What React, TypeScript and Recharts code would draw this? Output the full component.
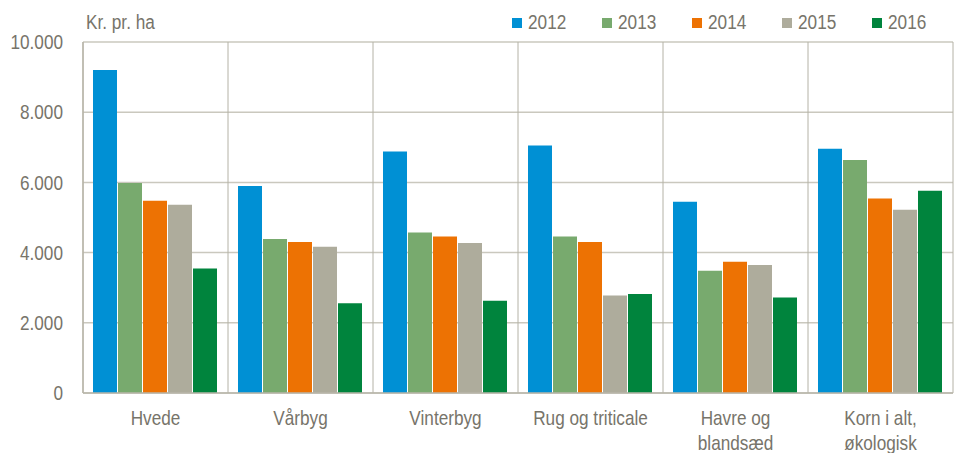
import React from 'react';
import { BarChart, Bar, XAxis, YAxis, CartesianGrid } from 'recharts';

const categories = ['Hvede', 'Vårbyg', 'Vinterbyg', 'Rug og triticale', 'Havre og\nblandsæd', 'Korn i alt,\nøkologisk'];
const years = ['2012', '2013', '2014', '2015', '2016'];
const v2012 = [9200, 5900, 6880, 7050, 5450, 6960];
const v2013 = [5980, 4390, 4570, 4460, 3480, 6640];
const v2014 = [5480, 4300, 4460, 4300, 3740, 5540];
const v2015 = [5360, 4170, 4270, 2780, 3650, 5220];
const v2016 = [3550, 2560, 2630, 2820, 2720, 5760];
const yTicks = [0, 2000, 4000, 6000, 8000, 10000];

const colors = ['#0090d4', '#78aa6e', '#ed7203', '#aeac9c', '#00843d'];
const series = [v2012, v2013, v2014, v2015, v2016];

const data = categories.map((name, i) => {
  const row: Record<string, string | number> = { name };
  years.forEach((y, j) => {
    row[y] = series[j][i];
  });
  return row;
});

// narrow look: regular sans squeezed horizontally
const FONT = '"Liberation Sans", Arial, sans-serif';
const FS = 20;
const SQ = 0.86;
const TEXT = '#77746a';

const fmt = (v: number) => v.toLocaleString('de-DE');

const CategoryTick = (props: any) => {
  const { x, y, payload } = props;
  const lines = String(payload.value).split('\n');
  return (
    <g transform={`translate(${x},${y}) scale(${SQ},1)`}>
      <text x={0} y={0} textAnchor="middle" fill={TEXT} fontSize={FS} fontFamily={FONT}>
        {lines.map((l, i) => (
          <tspan key={i} x={0} dy={i === 0 ? 32 : 25}>
            {l}
          </tspan>
        ))}
      </text>
    </g>
  );
};

const ValueTick = (props: any) => {
  const { x, y, payload } = props;
  return (
    <g transform={`translate(${x},${y}) scale(${SQ},1)`}>
      <text x={0} y={0} dy="0.355em" textAnchor="end" fill={TEXT} fontSize={FS} fontFamily={FONT}>
        {fmt(payload.value)}
      </text>
    </g>
  );
};

const squeezed: React.CSSProperties = {
  display: 'inline-block',
  transform: `scaleX(${SQ})`,
  transformOrigin: 'left center',
  whiteSpace: 'nowrap',
};

const App: React.FC = () => {
  const w = 955;
  const h = 453;
  return (
    <div style={{ position: 'absolute', left: 0, top: 0, width: w, height: h, background: '#fff' }}>
      <div
        style={{
          position: 'absolute',
          left: 86,
          top: 11,
          fontFamily: FONT,
          fontSize: FS,
          color: TEXT,
          lineHeight: '23px',
        }}
      >
        <span style={squeezed}>Kr. pr. ha</span>
      </div>
      <div style={{ position: 'absolute', left: 512, top: 11, fontFamily: FONT, fontSize: FS, color: TEXT }}>
        {years.map((y, i) => (
          <div
            key={y}
            style={{ position: 'absolute', left: i * 90, top: 0, height: 23, display: 'flex', alignItems: 'center' }}
          >
            <span style={{ width: 10, height: 10, background: colors[i], marginRight: 6 }} />
            <span style={{ ...squeezed, lineHeight: '23px' }}>{y}</span>
          </div>
        ))}
      </div>
      <BarChart
        width={w}
        height={h}
        data={data}
        margin={{ top: 42, right: 2, bottom: 0, left: 0 }}
        barCategoryGap={10}
        barGap={1}
      >
        <CartesianGrid vertical={false} stroke="#cac8be" strokeWidth={1.5} />
        <CartesianGrid
          horizontal={false}
          stroke="#b4b2a6"
          verticalCoordinatesGenerator={({ offset }: any) =>
            categories
              .map((_, i) => offset.left + (offset.width / categories.length) * i)
              .concat([offset.left + offset.width])
          }
        />
        <XAxis
          dataKey="name"
          height={60}
          interval={0}
          tickLine={false}
          tickSize={0}
          tickMargin={0}
          axisLine={{ stroke: '#b8b6aa', strokeWidth: 1.5 }}
          tick={<CategoryTick />}
        />
        <YAxis
          width={83}
          domain={[0, 10000]}
          ticks={yTicks}
          tickLine={false}
          tickSize={0}
          tickMargin={20}
          axisLine={{ stroke: '#b8b6aa', strokeWidth: 1.5 }}
          tick={<ValueTick />}
        />
        {years.map((y, i) => (
          <Bar key={y} dataKey={y} fill={colors[i]} isAnimationActive={false} />
        ))}
      </BarChart>
    </div>
  );
};

export default App;
